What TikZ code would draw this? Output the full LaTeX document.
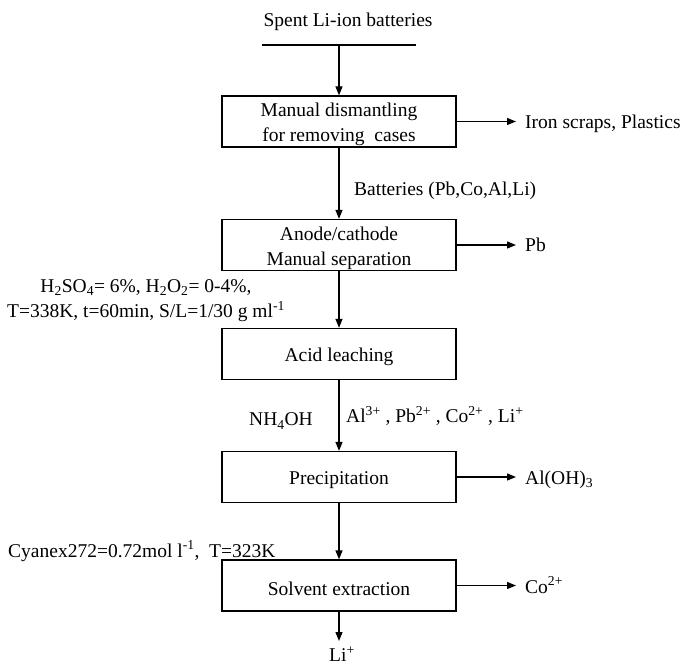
\documentclass[tikz,border=0pt]{standalone}
\usepackage{fontspec}
\setmainfont{Liberation Serif}
\usetikzlibrary{arrows.meta}
\newcommand{\lowtext}[1]{\raisebox{-3pt}[\height][\depth]{#1}}
\begin{document}
\begin{tikzpicture}[x=1pt,y=-1pt,
  every node/.style={font=\fontsize{19.5}{25}\selectfont},
  stepbox/.style={draw,line width=1.3pt,minimum width=234pt,minimum height=51pt,inner sep=0pt,align=center},
  lbl/.style={inner sep=0pt,align=center},
  flow/.style={line width=1.3pt,-{Triangle[length=9pt,width=7pt]}}]
\useasboundingbox (0,0) rectangle (680,666);
\node[lbl] (spent) at (348,22) {Spent Li-ion batteries};
\draw[line width=1.2pt] (262,45) -- (416,45);
\coordinate (top) at (339,45);
\node[stepbox] (b1) at (339,121.5) {\lowtext{\parbox{234pt}{\centering Manual dismantling\\for removing\ \ cases}}};
\node[stepbox] (b2) at (339,245) {\lowtext{\parbox{234pt}{\centering Anode/cathode\\Manual separation}}};
\node[stepbox] (b3) at (339,354) {\lowtext{Acid leaching}};
\node[stepbox] (b4) at (339,477) {\lowtext{Precipitation}};
\node[stepbox] (b5) at (339,585.5) {\lowtext{Solvent extraction}};
\node[lbl,anchor=west] (o1) at (525,124) {Iron scraps, Plastics};
\node[lbl,anchor=west] (o2) at (525,245) {Pb};
\node[lbl,anchor=west] (o4) at (525,480) {Al(OH)\textsubscript{3}};
\node[lbl,anchor=west] (o5) at (525,585) {Co\textsuperscript{2+}};
\node[lbl] (li) at (342,654) {Li\textsuperscript{+}};
\coordinate (liend) at (339,641);
\node[lbl,anchor=west] (bat) at (354,191) {Batteries (Pb,Co,Al,Li)};
\node[lbl] (acid) at (146,301) {H\textsubscript{2}SO\textsubscript{4}= 6\%, H\textsubscript{2}O\textsubscript{2}= 0-4\%,\\T=338K, t=60min, S/L=1/30 g ml\textsuperscript{-1}};
\node[lbl] (nh) at (281,421) {NH\textsubscript{4}OH};
\node[lbl,anchor=west] (ions) at (346,416) {Al\textsuperscript{3+} , Pb\textsuperscript{2+} , Co\textsuperscript{2+} , Li\textsuperscript{+}};
\node[lbl,anchor=west] (cy) at (8,551) {Cyanex272=0.72mol l\textsuperscript{-1},\ \ T=323K};
\draw[flow] (top) -- (b1.north);
\draw[flow] (b1.south) -- (b2.north);
\draw[flow] (b2.south) -- (b3.north);
\draw[flow] (b3.south) -- (b4.north);
\draw[flow] (b4.south) -- (b5.north);
\draw[flow] (b5.south) -- (liend);
\draw[flow] (b1.east) -- ([xshift=-9pt]b1.east -| o1.west);
\draw[flow] (b2.east) -- ([xshift=-9pt]b2.east -| o2.west);
\draw[flow] (b4.east) -- ([xshift=-9pt]b4.east -| o4.west);
\draw[flow] (b5.east) -- ([xshift=-9pt]b5.east -| o5.west);
\end{tikzpicture}
\end{document}
